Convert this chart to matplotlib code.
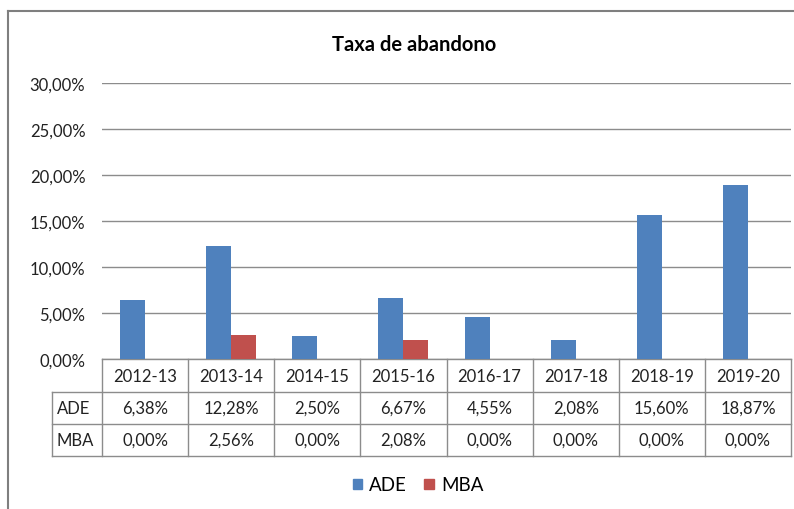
import numpy as np
import matplotlib
matplotlib.use("Agg")
import matplotlib.pyplot as plt
import matplotlib.transforms as mtransforms
from matplotlib.lines import Line2D
from matplotlib.patches import Patch

# data
categories = ["2012-13", "2013-14", "2014-15", "2015-16", "2016-17", "2017-18", "2018-19", "2019-20"]
ade = [6.38, 12.28, 2.50, 6.67, 4.55, 2.08, 15.60, 18.87]
mba = [0.00, 2.56, 0.00, 2.08, 0.00, 0.00, 0.00, 0.00]
series_names = ["ADE", "MBA"]
yticks = [0, 5, 10, 15, 20, 25, 30]

blue = "#4F81BD"
red = "#C0504D"
line_gray = "#8C8C8C"

plt.rcParams["font.family"] = ["Lato", "DejaVu Sans"]
plt.rcParams["font.size"] = 12

W, H = 794, 510
fig = plt.figure(figsize=(W / 100, H / 100), dpi=100)

# plot area in pixels
left_px, right_px, top_px, bottom_px = 102, 791, 84, 360
ax = fig.add_axes([left_px / W, 1 - bottom_px / H, (right_px - left_px) / W, (bottom_px - top_px) / H])

def pct(v):
    return f"{v:.2f}%".replace(".", ",")

x = np.arange(len(categories))
w = 0.29
ax.bar(x - w / 2, ade, w, color=blue, zorder=3)
ax.bar(x + w / 2, mba, w, color=red, zorder=3)

ax.set_xlim(-0.5, len(categories) - 0.5)
ax.set_ylim(0, 30)
ax.set_yticks(yticks)
ax.set_yticklabels([pct(t) for t in yticks], color="#222222")
ax.tick_params(axis="y", length=0, pad=12)
ax.set_xticks([])
ax.grid(axis="y", color=line_gray, linewidth=1, zorder=0)
for s in ax.spines.values():
    s.set_visible(False)

# data table under the plot
tr = mtransforms.blended_transform_factory(ax.transData, ax.transAxes)
ph = bottom_px - top_px
row_y = [0, -33 / ph, -65 / ph, -97 / ph]
px_per_unit = (right_px - left_px) / len(categories)
label_left = -0.5 - 50 / px_per_unit
n = len(categories)
kw = dict(color=line_gray, linewidth=1, transform=tr, clip_on=False)

ax.add_line(Line2D([-0.5, n - 0.5], [row_y[0]] * 2, **kw))
for yy in row_y[1:]:
    ax.add_line(Line2D([label_left, n - 0.5], [yy] * 2, **kw))
ax.add_line(Line2D([label_left] * 2, [row_y[1], row_y[3]], **kw))
for k in range(n + 1):
    ax.add_line(Line2D([k - 0.5] * 2, [row_y[0], row_y[3]], **kw))

def mid(a, b):
    return (a + b) / 2

for i, c in enumerate(categories):
    ax.text(i, mid(row_y[0], row_y[1]), c, transform=tr, ha="center", va="center", color="#222222")
    ax.text(i, mid(row_y[1], row_y[2]), pct(ade[i]), transform=tr, ha="center", va="center", color="#222222")
    ax.text(i, mid(row_y[2], row_y[3]), pct(mba[i]), transform=tr, ha="center", va="center", color="#222222")
for j, name in enumerate(series_names):
    ax.text(label_left + 5 / px_per_unit, mid(row_y[j + 1], row_y[j + 2]), name, transform=tr,
            ha="left", va="center", color="#222222")

# title
fig.text(414 / W, 1 - 45 / H, "Taxa de abandono", ha="center", va="center", fontweight="bold", fontsize=14.5)

# legend
handles = [Patch(color=blue, label="ADE"), Patch(color=red, label="MBA")]
fig.legend(handles=handles, loc="center", bbox_to_anchor=(418 / W, 1 - 486 / H), ncol=2, frameon=False,
           fontsize=13.5, handlelength=0.5, handleheight=0.5, handletextpad=0.4, columnspacing=0.9)

# outer chart frame (partly cut off)
fig.add_artist(Line2D([8 / W, 1], [1 - 12 / H] * 2, color="#7F7F7F", linewidth=1.5, transform=fig.transFigure))
fig.add_artist(Line2D([8 / W] * 2, [0, 1 - 12 / H], color="#7F7F7F", linewidth=1.5, transform=fig.transFigure))

fig.savefig("out.png", dpi=100)
